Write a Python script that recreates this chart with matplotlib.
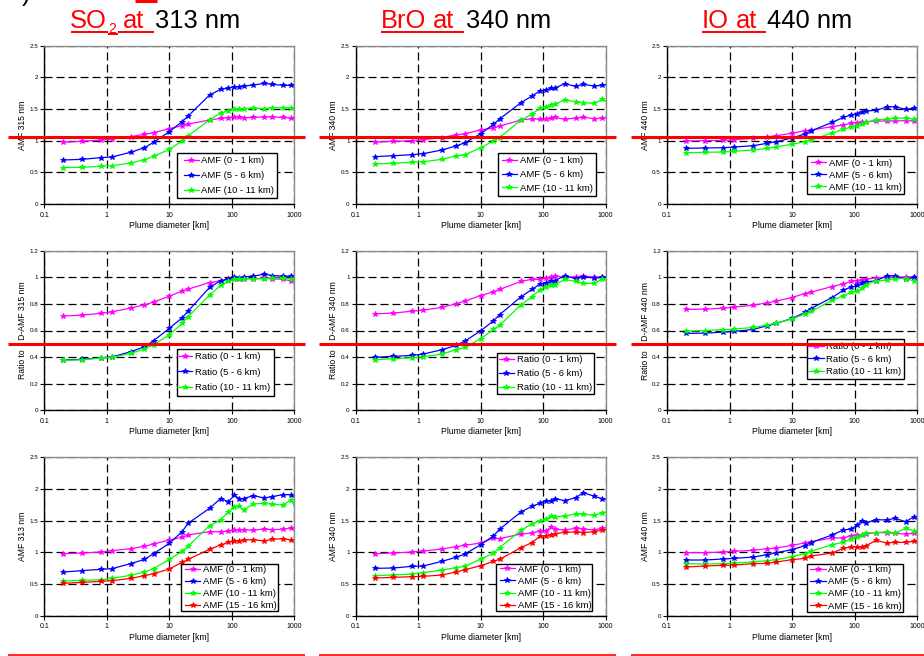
import numpy as np
import matplotlib
matplotlib.use("Agg")
import matplotlib.pyplot as plt
from matplotlib.lines import Line2D
from matplotlib.legend_handler import HandlerLine2D

plt.rcParams['font.family'] = ['Liberation Sans', 'DejaVu Sans']

W, H = 924, 656

# ---------------------------------------------------------------- data
diameter_km = [0.2, 0.4, 0.8, 1.2, 2.4, 4, 5.6, 10, 16, 20, 44, 66, 88,
               110, 132, 154, 220, 330, 440, 660, 880, 1000]

# AMF, SO2 window (315 nm)
so2_amf_0_1 = [0.974, 0.99, 1.01, 1.026, 1.063, 1.10, 1.126, 1.19, 1.237, 1.263, 1.326, 1.353, 1.363,
               1.374, 1.374, 1.363, 1.368, 1.374, 1.374, 1.368, 1.353, 1.35]
so2_amf_5_6 = [0.695, 0.705, 0.732, 0.742, 0.816, 0.889, 0.974, 1.142, 1.30, 1.389, 1.721, 1.81, 1.83,
               1.853, 1.853, 1.863, 1.879, 1.905, 1.889, 1.874, 1.874, 1.87]
so2_amf_10_11 = [0.574, 0.579, 0.595, 0.605, 0.647, 0.70, 0.753, 0.863, 0.995, 1.079, 1.326, 1.437, 1.474,
                 1.50, 1.50, 1.505, 1.516, 1.505, 1.521, 1.521, 1.51, 1.51]

# AMF, BrO window (340 nm)
bro_amf_0_1 = [0.975, 0.99, 1.0, 1.015, 1.05, 1.09, 1.11, 1.17, 1.20, 1.23, 1.326, 1.347, 1.337,
               1.347, 1.358, 1.368, 1.337, 1.358, 1.368, 1.347, 1.358, 1.36]
bro_amf_5_6 = [0.747, 0.763, 0.779, 0.795, 0.853, 0.916, 0.968, 1.11, 1.258, 1.342, 1.60, 1.705, 1.784,
               1.80, 1.826, 1.832, 1.90, 1.858, 1.89, 1.863, 1.874, 1.88]
bro_amf_10_11 = [0.632, 0.642, 0.658, 0.668, 0.705, 0.758, 0.779, 0.889, 0.995, 1.047, 1.326, 1.416, 1.51,
                 1.537, 1.568, 1.579, 1.642, 1.616, 1.60, 1.589, 1.653, 1.63]

# AMF, IO window (440 nm)
io_amf_0_1 = [0.995, 1.0, 1.005, 1.016, 1.037, 1.058, 1.079, 1.116, 1.158, 1.168, 1.221, 1.247, 1.274,
              1.284, 1.295, 1.30, 1.31, 1.31, 1.31, 1.316, 1.31, 1.31]
io_amf_5_6 = [0.879, 0.884, 0.889, 0.90, 0.921, 0.958, 0.984, 1.042, 1.105, 1.153, 1.289, 1.368, 1.405,
              1.426, 1.458, 1.468, 1.479, 1.532, 1.537, 1.495, 1.516, 1.51]
io_amf_10_11 = [0.81, 0.816, 0.821, 0.832, 0.853, 0.879, 0.905, 0.942, 0.984, 1.01, 1.121, 1.179, 1.216,
                1.237, 1.263, 1.289, 1.332, 1.337, 1.353, 1.358, 1.337, 1.33]

# Ratio to 1D-AMF, 315 nm
so2_ratio_0_1 = [0.709, 0.716, 0.729, 0.741, 0.769, 0.794, 0.814, 0.859, 0.897, 0.912, 0.962, 0.975, 0.985,
                 0.99, 0.99, 0.992, 0.99, 0.995, 0.99, 0.987, 0.975, 0.982]
so2_ratio_5_6 = [0.377, 0.382, 0.394, 0.40, 0.44, 0.477, 0.523, 0.616, 0.696, 0.746, 0.925, 0.975, 0.99,
                 1.0, 0.997, 1.005, 1.01, 1.025, 1.015, 1.01, 1.008, 1.005]
so2_ratio_10_11 = [0.374, 0.379, 0.392, 0.397, 0.427, 0.46, 0.492, 0.568, 0.653, 0.704, 0.867, 0.94, 0.97,
                   0.985, 0.985, 0.992, 0.99, 0.99, 0.997, 0.995, 0.992, 0.992]

# Ratio to 1D-AMF, 340 nm
bro_ratio_0_1 = [0.726, 0.731, 0.746, 0.754, 0.774, 0.802, 0.822, 0.864, 0.892, 0.91, 0.97, 0.987, 0.985,
                 0.995, 1.0, 1.013, 1.0, 1.005, 1.013, 1.0, 1.005, 1.005]
bro_ratio_5_6 = [0.397, 0.405, 0.412, 0.422, 0.455, 0.487, 0.52, 0.598, 0.673, 0.719, 0.854, 0.91, 0.95,
                 0.96, 0.97, 0.977, 1.013, 0.992, 1.005, 0.997, 1.0, 1.0]
bro_ratio_10_11 = [0.379, 0.387, 0.394, 0.402, 0.422, 0.455, 0.472, 0.538, 0.608, 0.638, 0.794, 0.854, 0.907,
                   0.93, 0.947, 0.947, 0.985, 0.97, 0.955, 0.955, 0.992, 0.98]

# Ratio to 1D-AMF, 440 nm
io_ratio_0_1 = [0.759, 0.761, 0.769, 0.776, 0.791, 0.809, 0.822, 0.849, 0.879, 0.889, 0.932, 0.952, 0.97,
                0.977, 0.982, 0.987, 0.997, 1.0, 1.0, 1.005, 1.0, 1.0]
io_ratio_5_6 = [0.578, 0.58, 0.588, 0.593, 0.608, 0.636, 0.653, 0.691, 0.736, 0.766, 0.849, 0.905, 0.927,
                0.94, 0.955, 0.967, 0.975, 1.013, 1.013, 0.987, 1.0, 1.0]
io_ratio_10_11 = [0.595, 0.60, 0.606, 0.611, 0.623, 0.641, 0.656, 0.688, 0.724, 0.744, 0.827, 0.862, 0.887,
                  0.897, 0.917, 0.947, 0.975, 0.98, 0.992, 0.992, 0.975, 0.975]

# AMF at 313 nm, four plume heights
so2b_amf_0_1 = [0.979, 0.989, 1.005, 1.026, 1.058, 1.095, 1.132, 1.195, 1.237, 1.274, 1.326, 1.326, 1.332,
                1.353, 1.358, 1.358, 1.347, 1.368, 1.358, 1.363, 1.384, 1.368]
so2b_amf_5_6 = [0.689, 0.711, 0.732, 0.742, 0.821, 0.889, 0.979, 1.142, 1.326, 1.458, 1.695, 1.847, 1.80,
                1.90, 1.847, 1.847, 1.895, 1.858, 1.879, 1.911, 1.911, 1.879]
so2b_amf_10_11 = [0.547, 0.558, 0.568, 0.589, 0.637, 0.689, 0.742, 0.889, 1.016, 1.095, 1.421, 1.511, 1.637,
                  1.721, 1.737, 1.668, 1.763, 1.774, 1.758, 1.747, 1.826, 1.737]
so2b_amf_15_16 = [0.511, 0.526, 0.542, 0.553, 0.589, 0.632, 0.663, 0.737, 0.842, 0.889, 1.047, 1.116, 1.158,
                  1.179, 1.174, 1.195, 1.20, 1.179, 1.205, 1.216, 1.195, 1.195]

# AMF at 340 nm, four plume heights
brob_amf_0_1 = [0.979, 0.989, 1.005, 1.021, 1.053, 1.089, 1.111, 1.147, 1.226, 1.216, 1.289, 1.305, 1.337,
                1.337, 1.395, 1.363, 1.353, 1.379, 1.368, 1.353, 1.384, 1.363]
brob_amf_5_6 = [0.747, 0.753, 0.779, 0.784, 0.858, 0.921, 0.974, 1.121, 1.258, 1.363, 1.637, 1.726, 1.774,
                1.816, 1.811, 1.847, 1.816, 1.863, 1.942, 1.884, 1.847, 1.837]
brob_amf_10_11 = [0.632, 0.642, 0.658, 0.679, 0.721, 0.758, 0.779, 0.895, 0.984, 1.074, 1.347, 1.447, 1.50,
                  1.526, 1.568, 1.558, 1.574, 1.605, 1.60, 1.584, 1.626, 1.637]
brob_amf_15_16 = [0.595, 0.605, 0.616, 0.621, 0.642, 0.689, 0.726, 0.789, 0.858, 0.889, 1.074, 1.153, 1.253,
                  1.258, 1.279, 1.295, 1.316, 1.321, 1.311, 1.326, 1.353, 1.353]

# AMF at 440 nm, four plume heights
iob_amf_0_1 = [0.995, 0.995, 1.005, 1.016, 1.032, 1.058, 1.068, 1.111, 1.147, 1.168, 1.226, 1.226, 1.263,
               1.279, 1.268, 1.295, 1.311, 1.311, 1.30, 1.289, 1.30, 1.30]
iob_amf_5_6 = [0.879, 0.879, 0.895, 0.905, 0.926, 0.963, 0.995, 1.042, 1.105, 1.153, 1.274, 1.353, 1.368,
               1.426, 1.50, 1.468, 1.516, 1.511, 1.537, 1.484, 1.558, 1.537]
iob_amf_10_11 = [0.821, 0.816, 0.821, 0.832, 0.847, 0.868, 0.884, 0.932, 0.979, 1.016, 1.121, 1.158, 1.216,
                 1.247, 1.268, 1.305, 1.311, 1.326, 1.30, 1.379, 1.342, 1.332]
iob_amf_15_16 = [0.768, 0.784, 0.795, 0.80, 0.821, 0.826, 0.847, 0.884, 0.905, 0.942, 0.989, 1.063, 1.084,
                 1.084, 1.079, 1.105, 1.189, 1.147, 1.158, 1.158, 1.174, 1.174]

heights_3 = ['0 - 1 km', '5 - 6 km', '10 - 11 km']
heights_4 = ['0 - 1 km', '5 - 6 km', '10 - 11 km', '15 - 16 km']
series_colors = ['#ff00ff', '#0000ff', '#00ff00', '#ff0000']

x_ticks = [0.1, 1, 10, 100, 1000]
x_tick_labels = ['0.1', '1', '10', '100', '1000']
amf_ticks = [0, 0.5, 1, 1.5, 2, 2.5]
amf_tick_labels = ['0', '0.5', '1', '1.5', '2', '2.5']
ratio_ticks = [0, 0.2, 0.4, 0.6, 0.8, 1, 1.2]
ratio_tick_labels = ['0', '0.2', '0.4', '0.6', '0.8', '1', '1.2']

# ---------------------------------------------------------------- layout (pixels)
col_left = [44.3, 355.7, 667.0]
col_width = 250.0
row_top = [45.7, 251.0, 457.3]
row_height = [158.3, 159.0, 158.4]

LEG_FS = 6.8
LEG_PX = LEG_FS * 100 / 72

fig = plt.figure(figsize=(W / 100, H / 100), dpi=100)


def fx(x):
    return x / W


def fy(y):
    return 1 - y / H


class ShortLineHandler(HandlerLine2D):
    """Legend key whose line sits in the right part of the handle box."""

    def __init__(self, line_px, **kw):
        super().__init__(**kw)
        self.line_px = line_px

    def get_xdata(self, legend, xdescent, ydescent, width, height, fontsize):
        x1 = -xdescent + width
        x0 = x1 - self.line_px
        return np.array([x0, x1]), np.array([0.5 * (x0 + x1)])


panels = [
    # row, col, series, label prefix, y label, scale kind, legend anchor, spacing, pad, left gap px
    (0, 0, [so2_amf_0_1, so2_amf_5_6, so2_amf_10_11], 'AMF', 'AMF 315 nm', 'amf', (0.932, 0.038), 0.63, 0.30, 11),
    (0, 1, [bro_amf_0_1, bro_amf_5_6, bro_amf_10_11], 'AMF', 'AMF 340 nm', 'amf', (0.960, 0.052), 0.50, 0.32, 8),
    (0, 2, [io_amf_0_1, io_amf_5_6, io_amf_10_11], 'AMF', 'AMF 440 nm', 'amf', (0.948, 0.063), 0.31, 0.26, 8),
    (1, 0, [so2_ratio_0_1, so2_ratio_5_6, so2_ratio_10_11], 'Ratio', 'Ratio to    D-AMF 315 nm', 'ratio', (0.917, 0.09), 0.70, 0.36, 4),
    (1, 1, [bro_ratio_0_1, bro_ratio_5_6, bro_ratio_10_11], 'Ratio', 'Ratio to    D-AMF 340 nm', 'ratio', (0.953, 0.10), 0.54, 0.22, 6),
    (1, 2, [io_ratio_0_1, io_ratio_5_6, io_ratio_10_11], 'Ratio', 'Ratio to    D-AMF 440 nm', 'ratio', (0.949, 0.195), 0.39, 0.28, 6),
    (2, 0, [so2b_amf_0_1, so2b_amf_5_6, so2b_amf_10_11, so2b_amf_15_16], 'AMF', 'AMF 313 nm', 'amf', (0.933, 0.028), 0.33, 0.10, 8),
    (2, 1, [brob_amf_0_1, brob_amf_5_6, brob_amf_10_11, brob_amf_15_16], 'AMF', 'AMF 340 nm', 'amf', (0.947, 0.030), 0.33, 0.10, 8),
    (2, 2, [iob_amf_0_1, iob_amf_5_6, iob_amf_10_11, iob_amf_15_16], 'AMF', 'AMF 440 nm', 'amf', (0.945, 0.025), 0.33, 0.12, 8),
]

LINE_PX = 11.0

for row, col, series, prefix, ylabel, kind, anchor, lspace, bpad, gap in panels:
    left = col_left[col]
    top = row_top[row]
    h = row_height[row]
    ax = fig.add_axes([fx(left), fy(top + h), col_width / W, h / H])
    ax.set_xscale('log')
    ax.set_xlim(0.1, 1000)
    if kind == 'amf':
        ax.set_ylim(0, 2.5)
        ax.set_yticks(amf_ticks)
        ax.set_yticklabels(amf_tick_labels)
    else:
        ax.set_ylim(0, 1.2)
        ax.set_yticks(ratio_ticks)
        ax.set_yticklabels(ratio_tick_labels)
    ax.set_xticks(x_ticks)
    ax.set_xticklabels(x_tick_labels)
    ax.xaxis.set_minor_locator(matplotlib.ticker.NullLocator())

    ax.grid(True, which='major', color='black', linewidth=0.9,
            linestyle=(0, (6.4, 3.2)))
    ax.set_axisbelow(True)

    for side in ('left', 'bottom'):
        ax.spines[side].set_color('black')
        ax.spines[side].set_linewidth(1.0)
    for side in ('top', 'right'):
        ax.spines[side].set_color('#8a8a8a')
        ax.spines[side].set_linewidth(1.0)

    ax.tick_params(axis='both', which='major', direction='out', length=2.6,
                   width=0.8, color='black')
    ax.tick_params(axis='y', labelsize=4.5, pad=1.8)
    ax.tick_params(axis='x', labelsize=5.0, pad=3.0)

    handles = []
    labels = heights_4 if len(series) == 4 else heights_3
    for vals, color, lab in zip(series, series_colors, labels):
        ln, = ax.plot(diameter_km, vals, color=color, linewidth=0.9,
                      marker='*', markersize=4.2, markeredgewidth=0.6,
                      markevery=list(range(len(diameter_km) - 1)),
                      label=f'{prefix} ({lab})')
        handles.append(ln)

    ax.set_xlabel('Plume diameter [km]', fontsize=6.2)
    ax.xaxis.set_label_coords(0.5, -0.108)
    ax.set_ylabel(ylabel, fontsize=6.2)
    ax.yaxis.set_label_coords(-0.069, 0.5)

    handle_px = max(gap - bpad * LEG_PX, 0) + LINE_PX
    leg = ax.legend(handles=handles, loc='lower right', bbox_to_anchor=anchor,
                    fontsize=LEG_FS, frameon=True, fancybox=False, shadow=False,
                    framealpha=1, edgecolor='black',
                    handlelength=handle_px / LEG_PX,
                    handletextpad=0.28, borderpad=bpad, labelspacing=lspace,
                    borderaxespad=0,
                    handler_map={Line2D: ShortLineHandler(LINE_PX)})
    leg.get_frame().set_linewidth(1.0)

# ---------------------------------------------------------------- titles
title_size = 18.4
sub_size = 10.0
baseline = 28.3

titles = [
    # (text, left x, baseline offset, size, colour)
    [('SO', 70.0, 0, title_size, 'red'), ('2', 108.5, 5.0, sub_size, 'red'),
     ('at', 122.5, 0, title_size, 'red'), ('313 nm', 155.0, 0, title_size, 'black')],
    [('BrO', 380.5, 0, title_size, 'red'), ('at', 432.5, 0, title_size, 'red'),
     ('340 nm', 465.5, 0, title_size, 'black')],
    [('IO', 701.5, 0, title_size, 'red'), ('at', 735.5, 0, title_size, 'red'),
     ('440 nm', 767.0, 0, title_size, 'black')],
]
for pieces in titles:
    for text, x, dy, size, color in pieces:
        fig.text(fx(x), fy(baseline + dy), text, fontsize=size, color=color,
                 ha='left', va='baseline')

underlines = [
    (70.6, 108.0, 32.3), (108.0, 118.0, 34.3), (118.0, 154.0, 32.3),
    (381.0, 463.5, 32.3), (702.0, 766.0, 32.3),
]
for x0, x1, y in underlines:
    fig.add_artist(Line2D([fx(x0), fx(x1)], [fy(y), fy(y)], color='red',
                          linewidth=1.4, solid_capstyle='butt'))

# partial marks along the top edge
fig.text(fx(22), fy(0.5), ')', fontsize=title_size, color='black',
         ha='left', va='baseline')
fig.add_artist(Line2D([fx(135), fx(157)], [fy(1.2), fy(1.2)], color='red',
                      linewidth=2.2, solid_capstyle='butt'))

# ---------------------------------------------------------------- reference lines
col_spans = [(8, 305), (319, 616), (631, 924)]
for y, lw in ((136.7, 2.2), (344.0, 2.2), (655.0, 1.2)):
    for x0, x1 in col_spans:
        fig.add_artist(Line2D([fx(x0), fx(x1)], [fy(y), fy(y)], color='red',
                              linewidth=lw, solid_capstyle='butt'))

fig.savefig('out.png', dpi=100)
